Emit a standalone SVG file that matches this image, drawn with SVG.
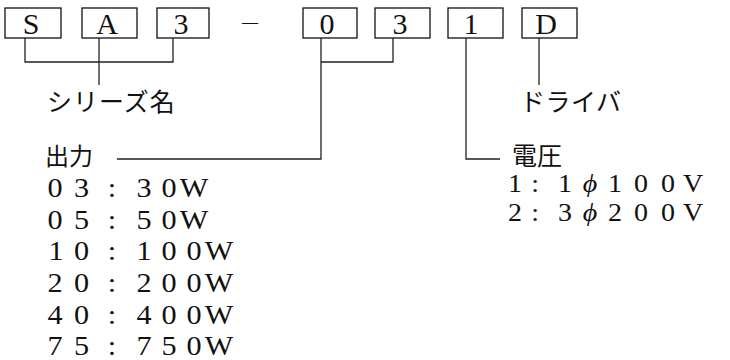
<svg xmlns="http://www.w3.org/2000/svg" width="730" height="360" viewBox="0 0 730 360">
<style>
.box rect{fill:#fff;stroke:#111;stroke-width:1.3}
.box text{font-family:"Liberation Serif","DejaVu Serif",serif;font-size:30px;fill:#111;text-anchor:middle}
.conn line,.conn polyline{fill:none;stroke:#222;stroke-width:1.3}
.jp{font-family:"Noto Sans CJK JP","Noto Sans CJK SC",sans-serif;font-size:25px;fill:#111}
.num{font-family:"Liberation Serif","DejaVu Serif",serif;font-size:27px;fill:#111;text-anchor:middle}
.num2{font-family:"Liberation Serif","DejaVu Serif",serif;font-size:25px;fill:#111;text-anchor:middle}
</style>
<rect width="730" height="360" fill="#fff"/>
<g id="box-S" class="box"><rect x="5" y="8" width="56" height="30"/><text x="31" y="33.5">S</text></g>
<g id="box-A" class="box"><rect x="82" y="8" width="55" height="30"/><text x="107" y="33.5">A</text></g>
<g id="box-3a" class="box"><rect x="157" y="8" width="52" height="30"/><text x="181" y="33.5">3</text></g>
<text id="dash" x="250" y="27" style="font-family:'Liberation Serif',serif;font-size:16px;text-anchor:middle;fill:#111">—</text>
<g id="box-0" class="box"><rect x="303" y="8" width="54" height="30"/><text x="327" y="33.5">0</text></g>
<g id="box-3b" class="box"><rect x="375" y="8" width="55" height="30"/><text x="400" y="33.5">3</text></g>
<g id="box-1" class="box"><rect x="448" y="8" width="55" height="30"/><text x="471" y="33.5">1</text></g>
<g id="box-D" class="box"><rect x="522" y="8" width="55" height="30"/><text x="546" y="33.5">D</text></g>

<g id="connectors" class="conn">
<polyline points="25,38 25,62 173,62 173,38"/>
<line x1="99" y1="38" x2="99" y2="85"/>
<polyline points="321,38 321,159 117,159"/>
<polyline points="393,38 393,62 321,62"/>
<polyline points="466,38 466,159 500,159"/>
<line x1="539" y1="38" x2="539" y2="85"/>
</g>

<g id="series-label"><text class="jp" x="47" y="111" letter-spacing="1">シリーズ名</text></g>
<g id="driver-label"><text class="jp" x="520" y="111" letter-spacing="0.5">ドライバ</text></g>

<g id="output-label">
<text class="jp" x="45" y="165" style="font-size:24px">出力</text>
<g transform="scale(1.12 1)">
<text class="num" x="49.11 72.77 100 128.57 150.89 173.21" y="197">03:30W</text>
<text class="num" x="49.11 72.77 100 128.57 150.89 173.21" y="228.7">05:50W</text>
<text class="num" x="50 72.77 100 128.57 150.89 173.21 195.54" y="260.4">10:100W</text>
<text class="num" x="49.11 72.77 100 128.57 150.89 173.21 195.54" y="292.1">20:200W</text>
<text class="num" x="49.11 72.77 100 128.57 150.89 173.21 195.54" y="323.8">40:400W</text>
<text class="num" x="49.11 72.77 100 128.57 150.89 173.21 195.54" y="355.5">75:750W</text>
</g>
</g>

<g id="voltage-label">
<text class="jp" x="512" y="165">電圧</text>
<g transform="scale(1.12 1)">
<text class="num2" x="459.8 477.7 504.5 526.8 549.1 572.3 596.4 618.75" y="192">1:1<tspan font-style="italic">ϕ</tspan>100V</text>
<text class="num2" x="459.8 477.7 504.5 526.8 549.1 572.3 596.4 618.75" y="221">2:3<tspan font-style="italic">ϕ</tspan>200V</text>
</g>
</g>
</svg>
